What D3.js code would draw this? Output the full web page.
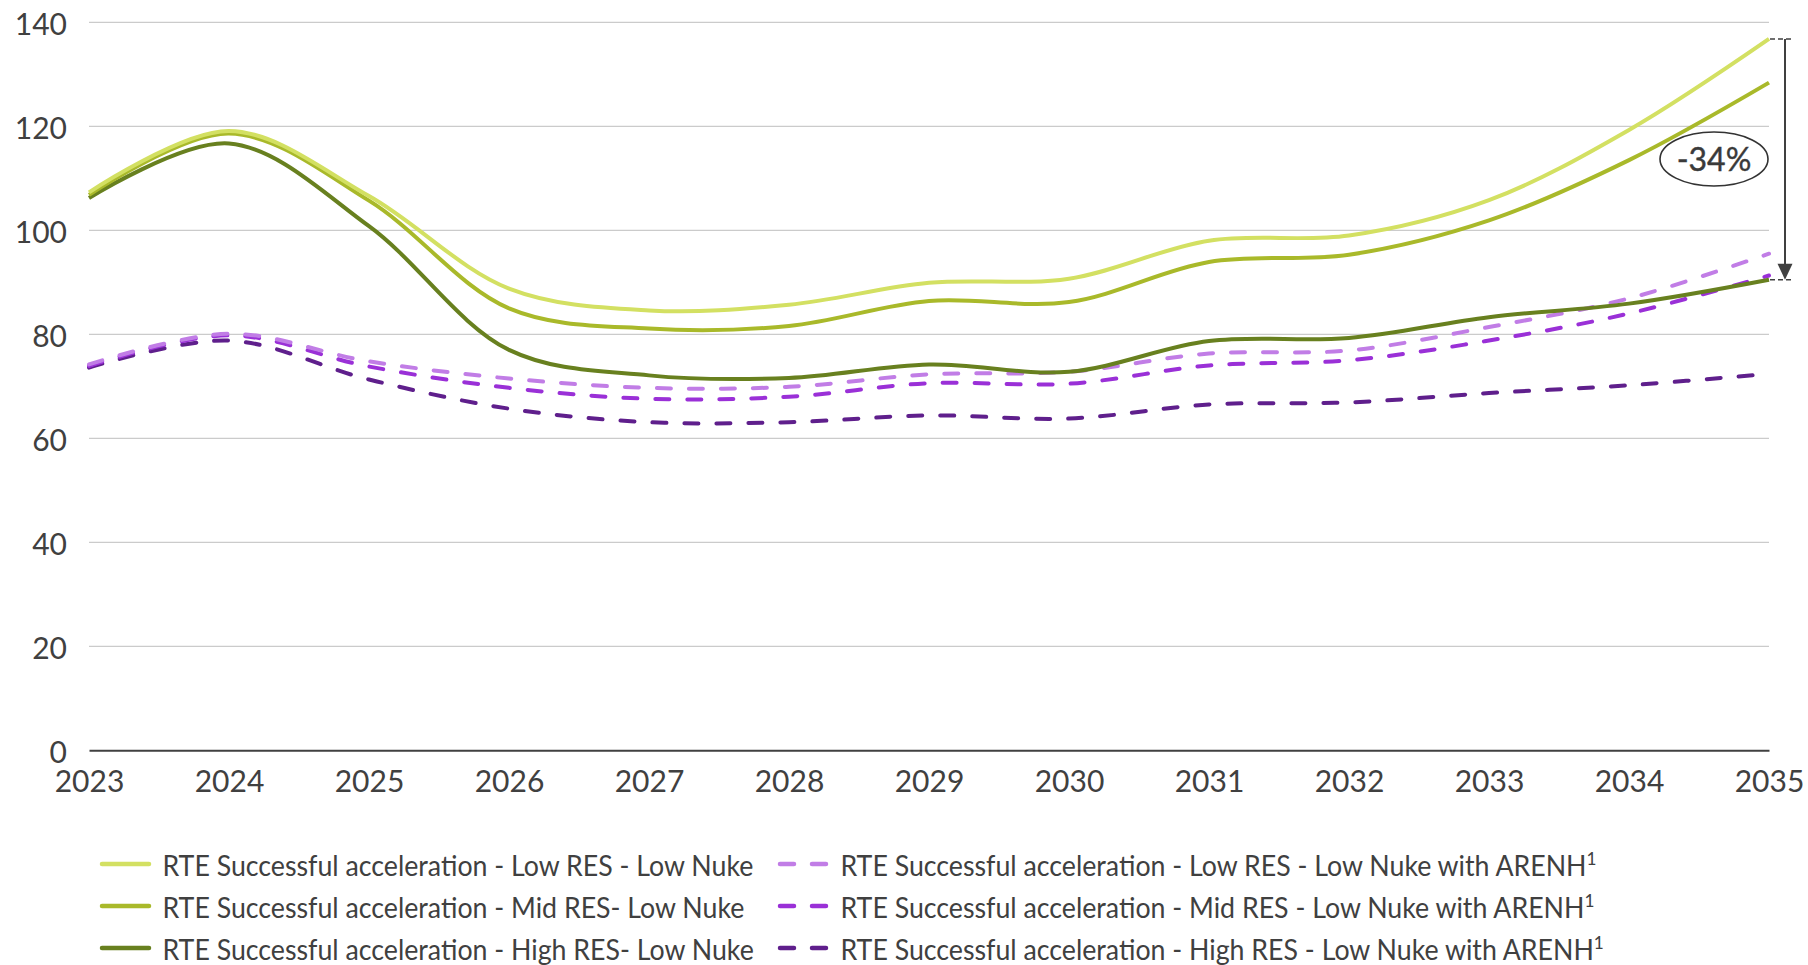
<!DOCTYPE html>
<html>
<head>
<meta charset="utf-8">
<script src="https://cdn.jsdelivr.net/npm/d3@7/dist/d3.min.js"></script>
<style>
  html, body { margin: 0; padding: 0; background: #ffffff; }
  svg { display: block; font-family: Lato, "Open Sans", sans-serif; }
</style>
</head>
<body>
<svg id="chart" width="1808" height="965"></svg>
<script>
// Wholesale price outlook, EUR/MWh, by RTE scenario
const years = [2023, 2024, 2025, 2026, 2027, 2028, 2029, 2030, 2031, 2032, 2033, 2034, 2035];
const yTicks = [0, 20, 40, 60, 80, 100, 120, 140];

const lowResLowNuke   = [107.3, 119.1, 106.6, 88.8, 84.6, 85.7, 89.9, 90.7, 98.0, 99.0, 105.8, 119.3, 136.8];
const midResLowNuke   = [106.8, 118.6, 105.7, 85.0, 81.1, 81.6, 86.4, 86.2, 93.9, 95.3, 101.9, 113.5, 128.4];
const highResLowNuke  = [106.2, 116.7, 100.8, 77.0, 72.1, 71.6, 74.2, 72.8, 78.7, 79.3, 83.3, 85.9, 90.5];
const lowResArenh     = [74.2, 80.1, 74.8, 71.5, 69.7, 69.9, 72.3, 72.8, 76.3, 76.9, 81.4, 86.9, 95.5];
const midResArenh     = [73.9, 79.8, 73.8, 69.7, 67.6, 68.0, 70.6, 70.5, 74.0, 75.0, 78.8, 84.0, 91.3];
const highResArenh    = [73.6, 78.8, 71.3, 65.7, 63.1, 63.1, 64.4, 63.8, 66.5, 66.9, 68.7, 70.2, 72.4];

const seriesNames = [
  "RTE Successful acceleration - Low RES - Low Nuke",
  "RTE Successful acceleration - Mid RES- Low Nuke",
  "RTE Successful acceleration - High RES- Low Nuke",
  "RTE Successful acceleration - Low RES - Low Nuke with ARENH",
  "RTE Successful acceleration - Mid RES - Low Nuke with ARENH",
  "RTE Successful acceleration - High RES - Low Nuke with ARENH"
];

const series = [
  { name: seriesNames[0], values: lowResLowNuke,  color: "#d3e062", dashed: false },
  { name: seriesNames[1], values: midResLowNuke,  color: "#a9b92a", dashed: false },
  { name: seriesNames[2], values: highResLowNuke, color: "#68801f", dashed: false },
  { name: seriesNames[3], values: lowResArenh,    color: "#c17de6", dashed: true },
  { name: seriesNames[4], values: midResArenh,    color: "#9a30d7", dashed: true },
  { name: seriesNames[5], values: highResArenh,   color: "#5f1f8c", dashed: true }
];

const svg = d3.select("#chart");
const textColor = "#404040";

const x = d3.scaleLinear().domain([2023, 2035]).range([89, 1769]);
const y = d3.scaleLinear().domain([0, 140]).range([750.3, 22.3]);

// horizontal gridlines
svg.append("g")
  .selectAll("line")
  .data(yTicks.filter(d => d > 0))
  .join("line")
  .attr("x1", x(2023)).attr("x2", x(2035))
  .attr("y1", d => y(d)).attr("y2", d => y(d))
  .attr("stroke", "#bfbfbf").attr("stroke-width", 1);

// y axis labels
const yAxis = d3.axisLeft(y).tickValues(yTicks).tickSize(0).tickPadding(22);
svg.append("g")
  .attr("transform", `translate(${x(2023)},0)`)
  .call(yAxis)
  .call(g => g.select(".domain").remove())
  .call(g => g.selectAll("text")
    .attr("fill", textColor)
    .attr("font-size", 30)
    .attr("font-family", "Lato, sans-serif")
    .attr("dy", "0.42em"));

// x axis
const xAxis = d3.axisBottom(x).tickValues(years).tickFormat(d3.format("d")).tickSize(0).tickPadding(14);
svg.append("g")
  .attr("transform", `translate(0,${y(0)})`)
  .call(xAxis)
  .call(g => g.select(".domain").attr("stroke", "#404040").attr("stroke-width", 2))
  .call(g => g.selectAll("text")
    .attr("fill", textColor)
    .attr("font-size", 30)
    .attr("font-family", "Lato, sans-serif")
    .attr("dy", "0.94em"));

// scenario lines
const line = d3.line()
  .x((d, i) => x(years[i]))
  .y(d => y(d))
  .curve(d3.curveCatmullRom.alpha(0.5));

// dashed series underneath the solid ones, drawn in reverse so lighter sit on top
const drawOrder = [5, 4, 3, 2, 1, 0];
svg.append("g")
  .selectAll("path")
  .data(drawOrder.map(i => series[i]))
  .join("path")
  .attr("d", d => line(d.values))
  .attr("fill", "none")
  .attr("stroke", d => d.color)
  .attr("stroke-width", 4)
  .attr("stroke-linecap", d => d.dashed ? "round" : "butt")
  .attr("stroke-dasharray", d => d.dashed ? "14,18" : null);

// gap annotation between the highest and lowest Low Nuke scenarios in 2035
const topVal = lowResLowNuke[lowResLowNuke.length - 1];
const botVal = highResLowNuke[highResLowNuke.length - 1];
const gapPct = Math.round((botVal / topVal - 1) * 100);
const ax = x(2035) + 16;
const ann = svg.append("g").attr("stroke", "#404040");
[topVal, botVal].forEach(v => {
  ann.append("line")
    .attr("x1", x(2035) + 1).attr("x2", ax + 8)
    .attr("y1", y(v)).attr("y2", y(v))
    .attr("stroke-width", 1.5)
    .attr("stroke-dasharray", "5,3");
});
ann.append("line")
  .attr("x1", ax).attr("x2", ax)
  .attr("y1", y(topVal)).attr("y2", y(botVal) - 14)
  .attr("stroke-width", 2);
ann.append("path")
  .attr("d", `M${ax - 7.5},${y(botVal) - 16} L${ax + 7.5},${y(botVal) - 16} L${ax},${y(botVal)} Z`)
  .attr("fill", "#404040").attr("stroke", "none");

const ex = x(2035) - 55, ey = y(113.7);
svg.append("ellipse")
  .attr("cx", ex).attr("cy", ey).attr("rx", 54).attr("ry", 27)
  .attr("fill", "#ffffff").attr("stroke", "#333333").attr("stroke-width", 1.6);
svg.append("text")
  .attr("x", ex).attr("y", ey + 12)
  .attr("text-anchor", "middle")
  .attr("font-size", 32)
  .attr("fill", "#3a3a3a")
  .attr("stroke", "#3a3a3a").attr("stroke-width", 0.4)
  .text(`${gapPct}%`);

// legend, two columns of three; text set slightly narrow
const legendCols = [
  { lineX: 102, textX: 162.5 },
  { lineX: 780, textX: 840.5 }
];
const rowY = [864, 906, 948];
const legend = svg.append("g");
series.forEach((s, i) => {
  const col = legendCols[Math.floor(i / 3)];
  const ry = rowY[i % 3];
  legend.append("line")
    .attr("x1", col.lineX).attr("x2", col.lineX + (s.dashed ? 46 : 47))
    .attr("y1", ry).attr("y2", ry)
    .attr("stroke", s.color).attr("stroke-width", 4.5)
    .attr("stroke-linecap", "round")
    .attr("stroke-dasharray", s.dashed ? "14,18" : null);
  const t = legend.append("text")
    .attr("transform", `translate(${col.textX},${ry + 11.5}) scale(0.955,1)`)
    .attr("font-size", 28)
    .attr("fill", textColor)
    .text(s.name);
  if (s.dashed) {
    t.append("tspan")
      .attr("font-size", 18)
      .attr("dy", -11)
      .text("1");
  }
});
</script>
</body>
</html>
